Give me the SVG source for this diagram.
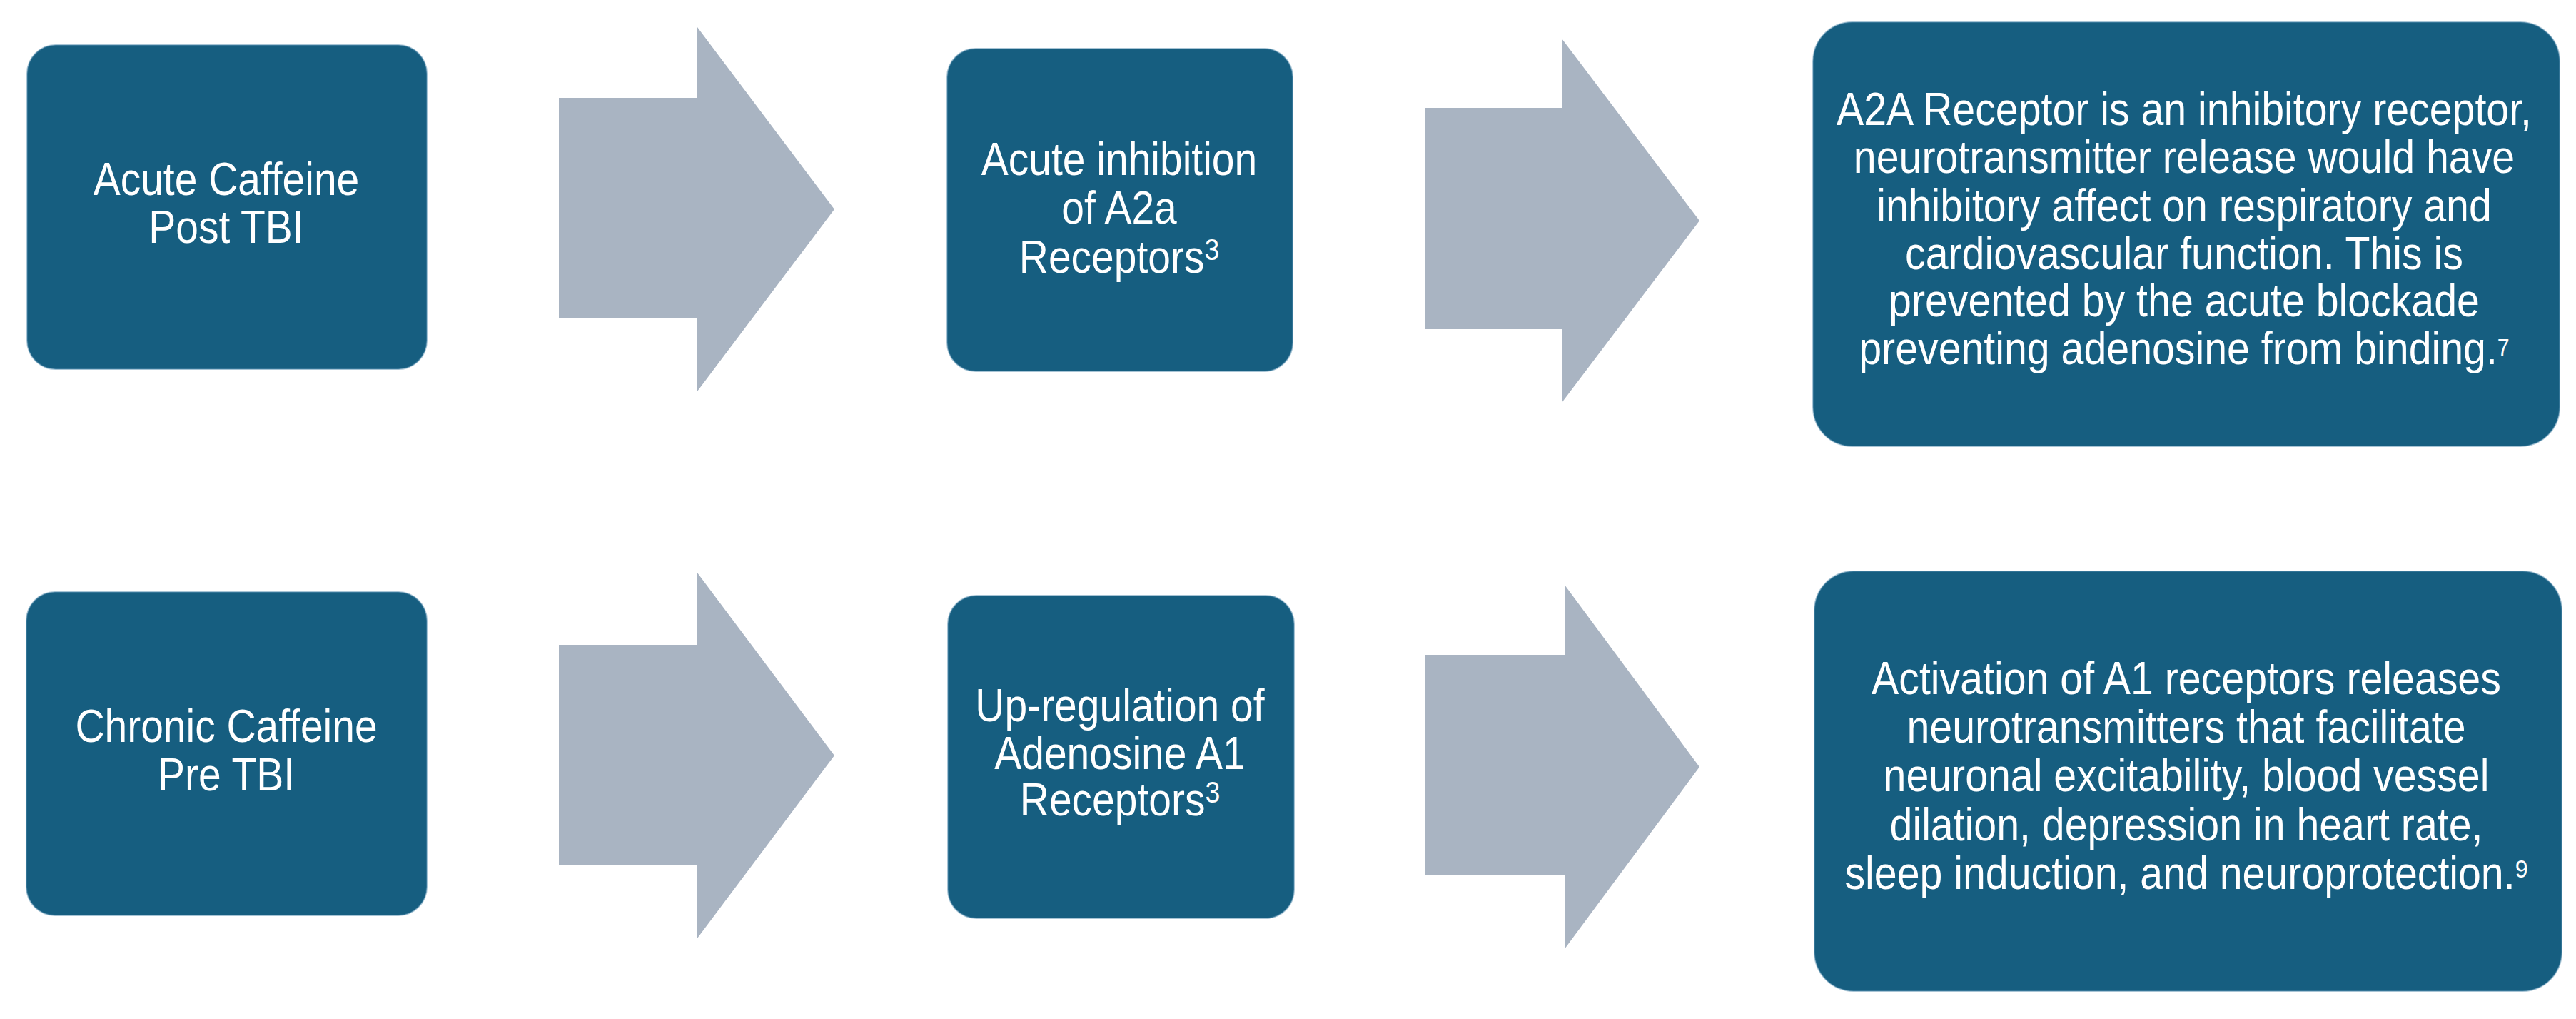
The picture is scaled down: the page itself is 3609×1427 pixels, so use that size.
<svg xmlns="http://www.w3.org/2000/svg" width="3609" height="1427" viewBox="0 0 3609 1427">
  <style>
    .box { fill: #165e80; stroke: #4f89ab; stroke-width: 2; stroke-opacity: 0.5; }
    .arrow { fill: #a9b4c2; }
    .t { font-family: "Liberation Sans", Arial, sans-serif; fill: #ffffff; text-anchor: middle; font-size: 64px; }
  </style>
  <rect width="3609" height="1427" fill="#ffffff"/>
  <g id="connectors">
    <polygon class="arrow" points="783,137 977,137 977,38 1169,293 977,548 977,445 783,445"/>
    <polygon class="arrow" points="1996,151 2188,151 2188,54 2381,309 2188,564 2188,461 1996,461"/>
    <polygon class="arrow" points="783,903 977,903 977,802 1169,1058 977,1314 977,1212 783,1212"/>
    <polygon class="arrow" points="1996,917 2192,917 2192,819 2381,1074 2192,1329 2192,1225 1996,1225"/>
  </g>
  <g id="node-acute-caffeine">
    <rect class="box" x="38" y="63" width="560" height="454" rx="40"/>
    <g transform="translate(317 0) scale(0.89 1) translate(-317 0)">
      <text class="t" x="317" y="273">Acute Caffeine</text>
      <text class="t" x="317" y="340">Post TBI</text>
    </g>
  </g>
  <g id="node-acute-inhibition">
    <rect class="box" x="1327" y="68" width="484" height="452" rx="40"/>
    <g transform="translate(1568 0) scale(0.89 1) translate(-1568 0)">
      <text class="t" x="1568" y="245">Acute inhibition</text>
      <text class="t" x="1568" y="313">of A2a</text>
      <text class="t" x="1568" y="382">Receptors<tspan font-size="42" dy="-18">3</tspan></text>
    </g>
  </g>
  <g id="node-a2a-effect">
    <rect class="box" x="2540" y="31" width="1046" height="594" rx="55"/>
    <g transform="translate(3060 0) scale(0.895 1) translate(-3060 0)">
      <text class="t" x="3060" y="175">A2A Receptor is an inhibitory receptor,</text>
      <text class="t" x="3060" y="242">neurotransmitter release would have</text>
      <text class="t" x="3060" y="310">inhibitory affect on respiratory and</text>
      <text class="t" x="3060" y="377">cardiovascular function. This is</text>
      <text class="t" x="3060" y="443">prevented by the acute blockade</text>
      <text class="t" x="3060" y="510">preventing adenosine from binding.<tspan font-size="34" dy="-12">7</tspan></text>
    </g>
  </g>
  <g id="node-chronic-caffeine">
    <rect class="box" x="37" y="829" width="561" height="453" rx="40"/>
    <g transform="translate(317 0) scale(0.89 1) translate(-317 0)">
      <text class="t" x="317" y="1039">Chronic Caffeine</text>
      <text class="t" x="317" y="1107">Pre TBI</text>
    </g>
  </g>
  <g id="node-up-regulation">
    <rect class="box" x="1328" y="834" width="485" height="452" rx="40"/>
    <g transform="translate(1569 0) scale(0.89 1) translate(-1569 0)">
      <text class="t" x="1569" y="1010">Up-regulation of</text>
      <text class="t" x="1569" y="1077">Adenosine A1</text>
      <text class="t" x="1569" y="1142">Receptors<tspan font-size="42" dy="-18">3</tspan></text>
    </g>
  </g>
  <g id="node-a1-effect">
    <rect class="box" x="2542" y="800" width="1047" height="588" rx="55"/>
    <g transform="translate(3063 0) scale(0.895 1) translate(-3063 0)">
      <text class="t" x="3063" y="972">Activation of A1 receptors releases</text>
      <text class="t" x="3063" y="1040">neurotransmitters that facilitate</text>
      <text class="t" x="3063" y="1108">neuronal excitability, blood vessel</text>
      <text class="t" x="3063" y="1177">dilation, depression in heart rate,</text>
      <text class="t" x="3063" y="1245">sleep induction, and neuroprotection.<tspan font-size="36" dy="-16">9</tspan></text>
    </g>
  </g>
</svg>
